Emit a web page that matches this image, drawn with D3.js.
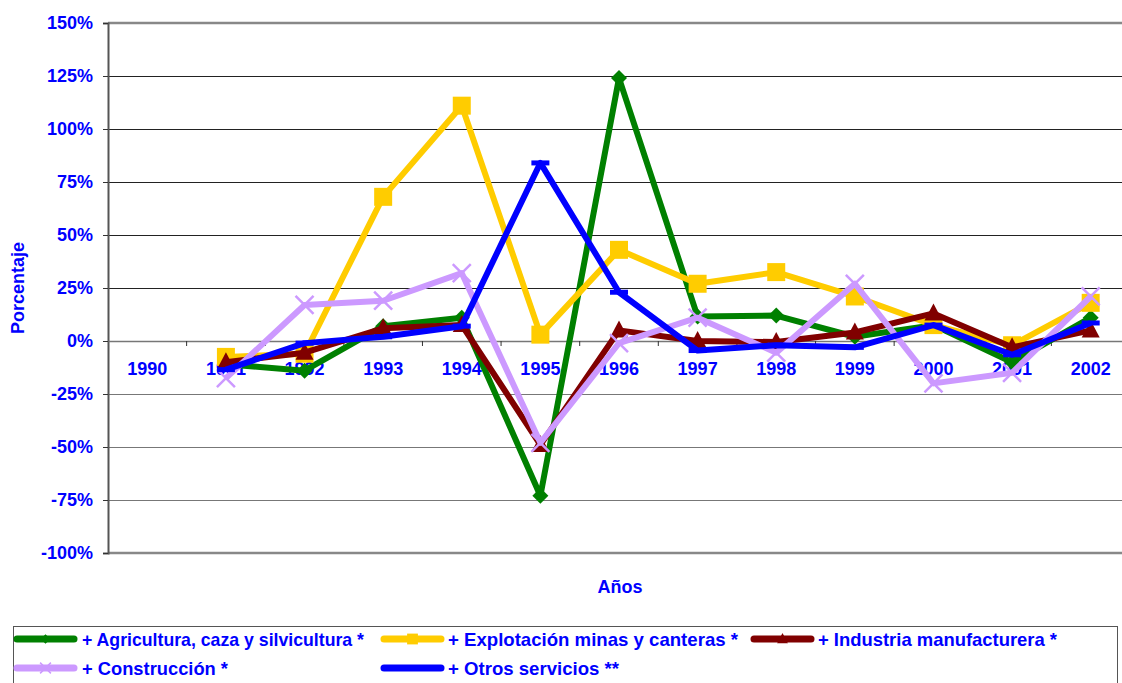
<!DOCTYPE html>
<html>
<head>
<meta charset="utf-8">
<script src="https://cdn.jsdelivr.net/npm/d3@7"></script>
<style>
  body { margin: 0; background: #fff; }
  svg { display: block; font-family: Arial, "Liberation Sans", sans-serif; font-weight: bold; }
</style>
</head>
<body>
<svg id="chart"></svg>
<script>
const years = ['1990', '1991', '1992', '1993', '1994', '1995', '1996', '1997', '1998', '1999', '2000', '2001', '2002'];
const yTicks = [-100, -75, -50, -25, 0, 25, 50, 75, 100, 125, 150];

// null = no value for that year
const agricultura = [null, -11, -14, 7, 11, -73, 124, 11.5, 12, 2, 7.5, -10, 11];
const explotacion = [null, -7.5, -6, 68, 111, 3, 43, 27, 32.5, 21, 7.5, -2, 18];
const industria = [null, -10, -5.5, 6, 7.5, -49, 5, 0, -0.5, 4, 13, -3, 5];
const construccion = [null, -17.5, 17, 19, 32, -48, -1, 11, -5.5, 27, -20, -15, 21];
const otros = [null, -13.5, -1, 2, 7, 84, 23, -4.5, -2, -3, 7.5, -6.5, 8.5];

const series = [
  { name: '+ Agricultura, caza y silvicultura *', values: agricultura, color: '#008000', marker: 'diamond' },
  { name: '+ Explotación minas y canteras *', values: explotacion, color: '#FFCC00', marker: 'square' },
  { name: '+ Industria manufacturera *', values: industria, color: '#800000', marker: 'triangle' },
  { name: '+ Construcción *', values: construccion, color: '#CC99FF', marker: 'cross' },
  { name: '+ Otros servicios **', values: otros, color: '#0000FF', marker: 'dash' }
];

const width = 1122;
const height = 683;
const margin = { top: 23, right: -8, bottom: 130, left: 108 };
const textColor = '#0000FF';
const fontFamily = 'Arial, "Liberation Sans", sans-serif';

const svg = d3.select('#chart')
  .attr('width', width)
  .attr('height', height);

const innerWidth = width - margin.left - margin.right;
const innerHeight = height - margin.top - margin.bottom;

const xScale = d3.scaleBand().domain(years).range([0, innerWidth]);
const yScale = d3.scaleLinear().domain([-100, 150]).range([innerHeight, 0]);

const g = svg.append('g')
  .attr('transform', `translate(${margin.left}, ${margin.top})`);

// gridlines
g.append('g')
  .selectAll('line')
  .data(yTicks.filter(d => d !== 0 && d !== 150 && d !== -100))
  .join('line')
    .attr('x1', 0)
    .attr('x2', innerWidth)
    .attr('y1', d => yScale(d) + 0.5)
    .attr('y2', d => yScale(d) + 0.5)
    .attr('stroke', d => d > 0 ? '#222' : '#777')
    .attr('stroke-width', 1.2);

// frame top / bottom
[150, -100].forEach(v => {
  g.append('line')
    .attr('x1', 0).attr('x2', innerWidth)
    .attr('y1', yScale(v)).attr('y2', yScale(v))
    .attr('stroke', '#888').attr('stroke-width', 2.5);
});

// y axis
const yAxis = g.append('g')
  .call(d3.axisLeft(yScale)
    .tickValues(yTicks)
    .tickSize(5)
    .tickFormat(d => d + '%'));
yAxis.select('.domain').attr('stroke', '#555').attr('stroke-width', 2);
yAxis.selectAll('.tick line').attr('stroke', '#333');
yAxis.selectAll('.tick text')
  .attr('fill', textColor)
  .attr('font-size', 18)
  .attr('font-weight', 'bold')
  .attr('font-family', fontFamily)
  .attr('x', -15);

// zero line as x axis
const xAxis = g.append('g')
  .attr('transform', `translate(0, ${yScale(0)})`)
  .call(d3.axisBottom(xScale).tickSize(0).tickSizeOuter(0));
xAxis.select('.domain').attr('stroke', '#777').attr('stroke-width', 1.5);
xAxis.selectAll('.tick text')
  .attr('fill', textColor)
  .attr('font-size', 18)
  .attr('font-weight', 'bold')
  .attr('font-family', fontFamily)
  .attr('dy', '0.71em')
  .attr('y', 21);

// small ticks between categories on the zero line
g.append('g')
  .selectAll('line')
  .data(years.slice(1))
  .join('line')
    .attr('x1', d => xScale(d))
    .attr('x2', d => xScale(d))
    .attr('y1', yScale(0))
    .attr('y2', yScale(0) + 5)
    .attr('stroke', '#333');

// axis titles
svg.append('text')
  .attr('transform', `translate(24, ${margin.top + yScale(25)}) rotate(-90)`)
  .attr('text-anchor', 'middle')
  .attr('fill', textColor)
  .attr('font-size', 18)
  .attr('font-weight', 'bold')
  .text('Porcentaje');

svg.append('text')
  .attr('x', 620)
  .attr('y', 593)
  .attr('text-anchor', 'middle')
  .attr('fill', textColor)
  .attr('font-size', 18)
  .attr('font-weight', 'bold')
  .text('Años');

// marker shapes
function markerPath(type) {
  switch (type) {
    case 'diamond': return 'M0,-8L8,0L0,8L-8,0Z';
    case 'square': return 'M-9,-9H9V9H-9Z';
    case 'triangle': return 'M0,-10L9,7H-9Z';
    case 'cross': return 'M-9,-9L9,9M9,-9L-9,9';
    case 'dash': return 'M-9,-2.5H9V2.5H-9Z';
  }
}

function drawMarker(sel, s) {
  if (s.marker === 'cross') {
    sel.append('path')
      .attr('d', markerPath('cross'))
      .attr('stroke', s.color)
      .attr('stroke-width', 2.5)
      .attr('fill', 'none');
  } else {
    sel.append('path')
      .attr('d', markerPath(s.marker))
      .attr('fill', s.color);
  }
}

const line = d3.line()
  .defined(d => d.v !== null)
  .x(d => xScale(d.year) + xScale.bandwidth() / 2)
  .y(d => yScale(d.v));

const plot = g.append('g');

series.forEach(s => {
  const pts = years.map((year, i) => ({ year, v: s.values[i] }));
  const sg = plot.append('g');
  sg.append('path')
    .datum(pts)
    .attr('fill', 'none')
    .attr('stroke', s.color)
    .attr('stroke-width', 6)
    .attr('stroke-linejoin', 'round')
    .attr('d', line);

  sg.selectAll('g.mk')
    .data(pts.filter(d => d.v !== null))
    .join('g')
      .attr('class', 'mk')
      .attr('transform', d => `translate(${xScale(d.year) + xScale.bandwidth() / 2}, ${yScale(d.v)})`)
      .each(function () { drawMarker(d3.select(this), s); });
});

// legend
const legend = svg.append('g');
legend.append('rect')
  .attr('x', 13.5)
  .attr('y', 626.5)
  .attr('width', 1104)
  .attr('height', 70)
  .attr('fill', '#fff')
  .attr('stroke', '#555')
  .attr('stroke-width', 1);

const legendPos = [
  { x: 17, y: 639, tx: 82, tw: 282 },
  { x: 384, y: 639, tx: 448, tw: 290 },
  { x: 754, y: 639, tx: 818, tw: 239 },
  { x: 17, y: 668, tx: 82, tw: 146 },
  { x: 384, y: 668, tx: 448, tw: 171 }
];

series.forEach((s, i) => {
  const p = legendPos[i];
  const lg = legend.append('g').attr('transform', `translate(${p.x}, ${p.y})`);
  lg.append('line')
    .attr('x1', 0).attr('x2', 57)
    .attr('stroke', s.color)
    .attr('stroke-width', 7)
    .attr('stroke-linecap', 'round');
  const mk = lg.append('g').attr('transform', 'translate(28.5,0) scale(0.6)');
  drawMarker(mk, s);
  lg.append('text')
    .attr('x', p.tx - p.x)
    .attr('dy', '0.35em')
    .attr('fill', textColor)
    .attr('font-size', 19)
    .attr('font-weight', 'bold')
    .attr('textLength', p.tw)
    .attr('lengthAdjust', 'spacingAndGlyphs')
    .text(s.name);
});
</script>
</body>
</html>
